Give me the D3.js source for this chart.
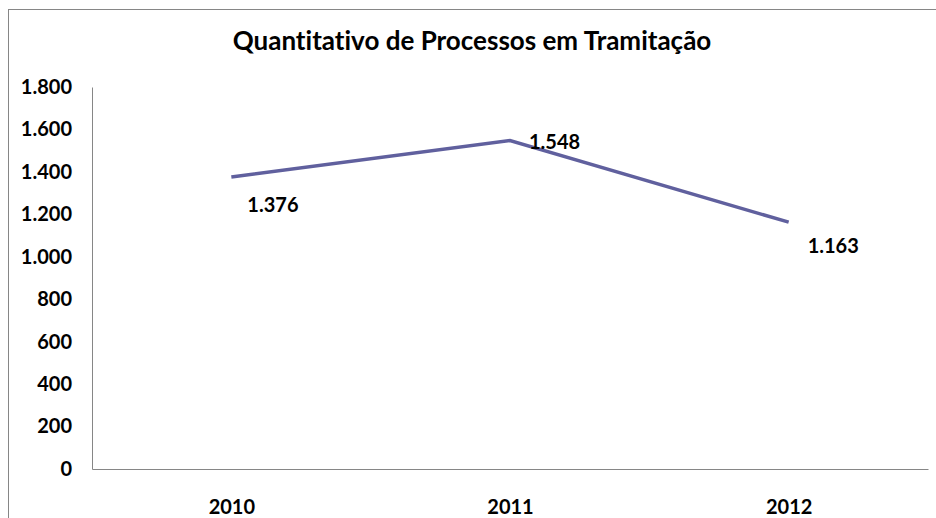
<!DOCTYPE html>
<html>
<head>
<meta charset="utf-8">
<script src="https://cdn.jsdelivr.net/npm/d3@7"></script>
<style>
  body { margin: 0; background: #fff; }
  text { font-family: Lato, "Open Sans", sans-serif; font-weight: bold; fill: #000; font-variant-ligatures: none; }
</style>
</head>
<body>
<svg id="grafico" width="936" height="518"></svg>
<script>
let anos = ['2010', '2011', '2012'];
let processos = [1376, 1548, 1163];
let ticksY = [0, 200, 400, 600, 800, 1000, 1200, 1400, 1600, 1800];
let titulo = 'Quantitativo de Processos em Tramitação';

// deslocamento dos rótulos (como o Excel colocou)
let rotuloDx = [16, 19, 19];
let rotuloDy = [28, 2, 24];

let svg = d3.select('#grafico');
let fmt = d3.formatLocale({ decimal: ',', thousands: '.', grouping: [3], currency: ['R$', ''] }).format(',d');

// moldura (lado direito e de baixo ficam fora da imagem)
svg.append('rect')
    .attr('x', 8.5).attr('y', 9.5)
    .attr('width', 940).attr('height', 530)
    .attr('fill', 'none')
    .attr('stroke', '#868686');

svg.append('text')
    .attr('x', 472).attr('y', 50)
    .attr('text-anchor', 'middle')
    .style('font-size', '26px')
    .text(titulo);

let esq = 92, dir = 928, topo = 87, base = 469;

let fnx = d3.scalePoint()
    .domain(anos)
    .range([esq, dir])
    .padding(0.5);

let fny = d3.scaleLinear()
    .domain([0, 1800])
    .range([base, topo]);

// eixo y
let eixoY = svg.append('g')
    .attr('transform', `translate(${esq},0)`)
    .call(d3.axisLeft(fny).tickValues(ticksY).tickFormat(fmt).tickSize(0).tickPadding(20));
eixoY.select('.domain').attr('stroke', '#868686');
eixoY.selectAll('text').style('font-size', '20px').style('font-family', 'Lato, sans-serif');

// eixo x
let eixoX = svg.append('g')
    .attr('transform', `translate(0,${base})`)
    .call(d3.axisBottom(fnx).tickSize(0).tickPadding(31));
eixoX.select('.domain').attr('stroke', '#868686');
eixoX.selectAll('text').style('font-size', '20px').style('font-family', 'Lato, sans-serif');

// linha
let linha = d3.line()
    .x((d, i) => fnx(anos[i]))
    .y(d => fny(d));

svg.append('path')
    .datum(processos)
    .attr('d', linha)
    .attr('fill', 'none')
    .attr('stroke', '#60609e')
    .attr('stroke-width', 3.5);

svg.selectAll('.rotulo')
    .data(processos)
    .join('text')
    .attr('class', 'rotulo')
    .attr('x', (d, i) => fnx(anos[i]) + rotuloDx[i])
    .attr('y', (d, i) => fny(d) + rotuloDy[i])
    .attr('dy', '0.35em')
    .style('font-size', '20px')
    .text(d => fmt(d));
</script>
</body>
</html>
